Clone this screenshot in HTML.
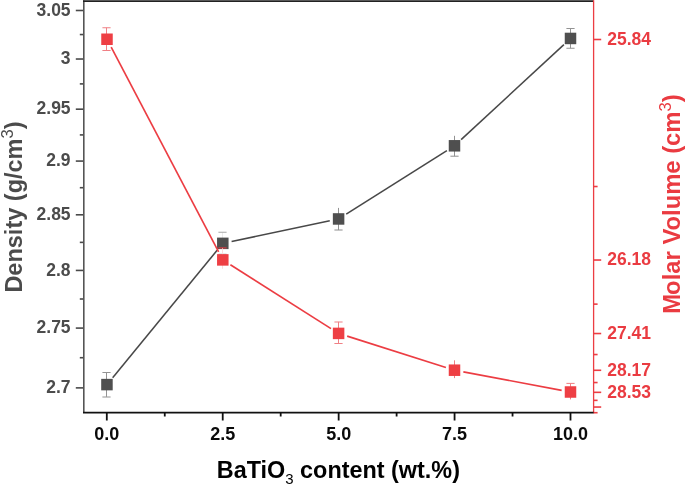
<!DOCTYPE html>
<html><head><meta charset="utf-8"><style>
html,body{margin:0;padding:0;background:#fff;width:685px;height:485px;overflow:hidden}
svg{display:block}
text{font-family:"Liberation Sans",Arial,sans-serif;font-weight:bold}
.tl{font-size:17.5px}
.xl{font-size:18px;fill:#0a0a0a}
.tt{font-size:23.4px}
.ss{font-size:16.5px;font-weight:normal}
.sb{font-size:15px;font-weight:normal}
</style></head><body>
<svg width="685" height="485" viewBox="0 0 685 485">
<rect width="685" height="485" fill="#fff"/>
<line x1="75.8" y1="10.49" x2="83.8" y2="10.49" stroke="#4a4a4a" stroke-width="1.6"/>
<line x1="75.8" y1="59.02" x2="83.8" y2="59.02" stroke="#4a4a4a" stroke-width="1.6"/>
<line x1="75.8" y1="109.18" x2="83.8" y2="109.18" stroke="#4a4a4a" stroke-width="1.6"/>
<line x1="75.8" y1="161.08" x2="83.8" y2="161.08" stroke="#4a4a4a" stroke-width="1.6"/>
<line x1="75.8" y1="214.80" x2="83.8" y2="214.80" stroke="#4a4a4a" stroke-width="1.6"/>
<line x1="75.8" y1="270.43" x2="83.8" y2="270.43" stroke="#4a4a4a" stroke-width="1.6"/>
<line x1="75.8" y1="328.09" x2="83.8" y2="328.09" stroke="#4a4a4a" stroke-width="1.6"/>
<line x1="75.8" y1="387.88" x2="83.8" y2="387.88" stroke="#4a4a4a" stroke-width="1.6"/>
<line x1="79.8" y1="34.55" x2="83.8" y2="34.55" stroke="#4a4a4a" stroke-width="1.6"/>
<line x1="79.8" y1="83.89" x2="83.8" y2="83.89" stroke="#4a4a4a" stroke-width="1.6"/>
<line x1="79.8" y1="134.91" x2="83.8" y2="134.91" stroke="#4a4a4a" stroke-width="1.6"/>
<line x1="79.8" y1="187.70" x2="83.8" y2="187.70" stroke="#4a4a4a" stroke-width="1.6"/>
<line x1="79.8" y1="242.37" x2="83.8" y2="242.37" stroke="#4a4a4a" stroke-width="1.6"/>
<line x1="79.8" y1="299.00" x2="83.8" y2="299.00" stroke="#4a4a4a" stroke-width="1.6"/>
<line x1="79.8" y1="357.71" x2="83.8" y2="357.71" stroke="#4a4a4a" stroke-width="1.6"/>
<text x="70.6" y="15.79" text-anchor="end" class="tl" fill="#4b4b4b">3.05</text>
<text x="70.6" y="64.32" text-anchor="end" class="tl" fill="#4b4b4b">3</text>
<text x="70.6" y="114.48" text-anchor="end" class="tl" fill="#4b4b4b">2.95</text>
<text x="70.6" y="166.38" text-anchor="end" class="tl" fill="#4b4b4b">2.9</text>
<text x="70.6" y="220.10" text-anchor="end" class="tl" fill="#4b4b4b">2.85</text>
<text x="70.6" y="275.73" text-anchor="end" class="tl" fill="#4b4b4b">2.8</text>
<text x="70.6" y="333.39" text-anchor="end" class="tl" fill="#4b4b4b">2.75</text>
<text x="70.6" y="393.18" text-anchor="end" class="tl" fill="#4b4b4b">2.7</text>
<line x1="593.6" y1="39.50" x2="601.2" y2="39.50" stroke="#ec3d43" stroke-width="1.6"/>
<text x="607.3" y="44.80" class="tl" fill="#ea3b41">25.84</text>
<line x1="593.6" y1="260.03" x2="601.2" y2="260.03" stroke="#ec3d43" stroke-width="1.6"/>
<text x="607.3" y="265.33" class="tl" fill="#ea3b41">26.18</text>
<line x1="593.6" y1="333.53" x2="601.2" y2="333.53" stroke="#ec3d43" stroke-width="1.6"/>
<text x="607.3" y="338.83" class="tl" fill="#ea3b41">27.41</text>
<line x1="593.6" y1="370.29" x2="601.2" y2="370.29" stroke="#ec3d43" stroke-width="1.6"/>
<text x="607.3" y="375.59" class="tl" fill="#ea3b41">28.17</text>
<line x1="593.6" y1="392.34" x2="601.2" y2="392.34" stroke="#ec3d43" stroke-width="1.6"/>
<text x="607.3" y="397.64" class="tl" fill="#ea3b41">28.53</text>
<line x1="593.6" y1="407.04" x2="601.2" y2="407.04" stroke="#ec3d43" stroke-width="1.6"/>
<line x1="593.6" y1="186.52" x2="597.6" y2="186.52" stroke="#ec3d43" stroke-width="1.6"/>
<line x1="593.6" y1="304.13" x2="597.6" y2="304.13" stroke="#ec3d43" stroke-width="1.6"/>
<line x1="593.6" y1="354.54" x2="597.6" y2="354.54" stroke="#ec3d43" stroke-width="1.6"/>
<line x1="593.6" y1="382.54" x2="597.6" y2="382.54" stroke="#ec3d43" stroke-width="1.6"/>
<line x1="593.6" y1="400.36" x2="597.6" y2="400.36" stroke="#ec3d43" stroke-width="1.6"/>
<line x1="593.6" y1="412.70" x2="597.6" y2="412.70" stroke="#ec3d43" stroke-width="1.6"/>
<line x1="106.80" y1="412.6" x2="106.80" y2="420.5" stroke="#111" stroke-width="1.8"/>
<text x="106.80" y="439.6" text-anchor="middle" class="xl">0.0</text>
<line x1="222.72" y1="412.6" x2="222.72" y2="420.5" stroke="#111" stroke-width="1.8"/>
<text x="222.72" y="439.6" text-anchor="middle" class="xl">2.5</text>
<line x1="338.65" y1="412.6" x2="338.65" y2="420.5" stroke="#111" stroke-width="1.8"/>
<text x="338.65" y="439.6" text-anchor="middle" class="xl">5.0</text>
<line x1="454.57" y1="412.6" x2="454.57" y2="420.5" stroke="#111" stroke-width="1.8"/>
<text x="454.57" y="439.6" text-anchor="middle" class="xl">7.5</text>
<line x1="570.50" y1="412.6" x2="570.50" y2="420.5" stroke="#111" stroke-width="1.8"/>
<text x="570.50" y="439.6" text-anchor="middle" class="xl">10.0</text>
<line x1="164.76" y1="412.6" x2="164.76" y2="416.5" stroke="#111" stroke-width="1.8"/>
<line x1="280.69" y1="412.6" x2="280.69" y2="416.5" stroke="#111" stroke-width="1.8"/>
<line x1="396.61" y1="412.6" x2="396.61" y2="416.5" stroke="#111" stroke-width="1.8"/>
<line x1="512.54" y1="412.6" x2="512.54" y2="416.5" stroke="#111" stroke-width="1.8"/>
<line x1="83.8" y1="0.3999999999999999" x2="83.8" y2="412.6" stroke="#555" stroke-width="1.6"/>
<line x1="83.0" y1="1.2" x2="593.6" y2="1.2" stroke="#222" stroke-width="1.7"/>
<line x1="593.6" y1="0.3" x2="593.6" y2="413.3" stroke="#ec3d43" stroke-width="1.3"/>
<line x1="83.0" y1="412.6" x2="593.6" y2="412.6" stroke="#111" stroke-width="1.9"/>
<line x1="112.66" y1="377.64" x2="217.09" y2="250.31" stroke="#484848" stroke-width="1.55"/>
<line x1="231.61" y1="241.49" x2="329.79" y2="220.81" stroke="#484848" stroke-width="1.55"/>
<line x1="346.21" y1="214.15" x2="446.89" y2="150.60" stroke="#484848" stroke-width="1.55"/>
<line x1="461.11" y1="139.69" x2="563.89" y2="44.56" stroke="#484848" stroke-width="1.55"/>
<path d="M106.5 372.50V396.90" stroke="#939393" stroke-width="1.05" fill="none"/>
<path d="M102.40 372.50h8.2M102.40 396.90h8.2" stroke="#939393" stroke-width="1.05" fill="none"/>
<rect x="101.20" y="378.85" width="11.5" height="11.5" fill="#4f4f4f"/>
<path d="M222.5 232.30V254.30" stroke="#ebebeb" stroke-width="1.05" fill="none"/>
<path d="M218.40 232.30h8.2M218.40 254.30h8.2" stroke="#a8a8a8" stroke-width="1.05" fill="none"/>
<rect x="217.05" y="237.60" width="11.5" height="11.5" fill="#4f4f4f"/>
<path d="M338.5 207.90V230.00" stroke="#939393" stroke-width="1.05" fill="none"/>
<path d="M334.40 230.00h8.2" stroke="#939393" stroke-width="1.05" fill="none"/>
<rect x="332.85" y="213.20" width="11.5" height="11.5" fill="#4f4f4f"/>
<path d="M454.5 135.80V156.20" stroke="#939393" stroke-width="1.05" fill="none"/>
<path d="M450.40 156.20h8.2" stroke="#939393" stroke-width="1.05" fill="none"/>
<rect x="448.75" y="140.05" width="11.5" height="11.5" fill="#4f4f4f"/>
<path d="M570.5 28.40V48.20" stroke="#939393" stroke-width="1.05" fill="none"/>
<path d="M566.40 28.40h8.2M566.40 48.20h8.2" stroke="#939393" stroke-width="1.05" fill="none"/>
<rect x="564.75" y="32.70" width="11.5" height="11.5" fill="#4f4f4f"/>
<line x1="111.18" y1="47.22" x2="218.62" y2="251.93" stroke="#ec3d43" stroke-width="1.65"/>
<line x1="230.40" y1="264.72" x2="331.00" y2="328.58" stroke="#ec3d43" stroke-width="1.65"/>
<line x1="347.18" y1="336.12" x2="445.92" y2="367.48" stroke="#ec3d43" stroke-width="1.65"/>
<line x1="463.35" y1="371.86" x2="561.65" y2="390.34" stroke="#ec3d43" stroke-width="1.65"/>
<path d="M106.5 27.70V50.40" stroke="#f08085" stroke-width="1.05" fill="none"/>
<path d="M102.40 27.70h8.2M102.40 50.40h8.2" stroke="#f08085" stroke-width="1.05" fill="none"/>
<rect x="101.25" y="33.50" width="11.5" height="11.5" fill="#ee3f44"/>
<path d="M222.5 247.90V268.80" stroke="#fadcdd" stroke-width="1.05" fill="none"/>
<path d="M218.40 247.90h8.2" stroke="#e53a40" stroke-width="1.05" fill="none"/>
<rect x="217.05" y="254.15" width="11.5" height="11.5" fill="#ee3f44"/>
<path d="M338.5 321.90V343.50" stroke="#f08085" stroke-width="1.05" fill="none"/>
<path d="M334.40 321.90h8.2M334.40 343.50h8.2" stroke="#f08085" stroke-width="1.05" fill="none"/>
<rect x="332.85" y="327.65" width="11.5" height="11.5" fill="#ee3f44"/>
<path d="M454.5 360.30V378.10" stroke="#f08085" stroke-width="1.05" fill="none"/>
<rect x="448.75" y="364.45" width="11.5" height="11.5" fill="#ee3f44"/>
<path d="M570.5 383.40V399.40" stroke="#f08085" stroke-width="1.05" fill="none"/>
<path d="M566.40 383.40h8.2" stroke="#f08085" stroke-width="1.05" fill="none"/>
<rect x="564.75" y="386.25" width="11.5" height="11.5" fill="#ee3f44"/>
<text x="216.8" y="477.6" class="tt" fill="#000">BaTiO<tspan class="sb" dy="6.3">3</tspan><tspan dy="-6.3"> content (wt.%)</tspan></text>
<text transform="translate(22.2 292.6) rotate(-90)" class="tt" style="font-size:23.5px" fill="#4b4b4b">Density (g/cm<tspan class="ss" dy="-8.8">3</tspan><tspan dy="8.8">)</tspan></text>
<text transform="translate(679.9 313.8) rotate(-90)" class="tt" style="font-size:23.8px" fill="#ea3b41">M<tspan dx="-0.9">olar Volume (cm</tspan><tspan class="ss" dy="-9.3">3</tspan><tspan dy="9.3">)</tspan></text>
</svg>
</body></html>
